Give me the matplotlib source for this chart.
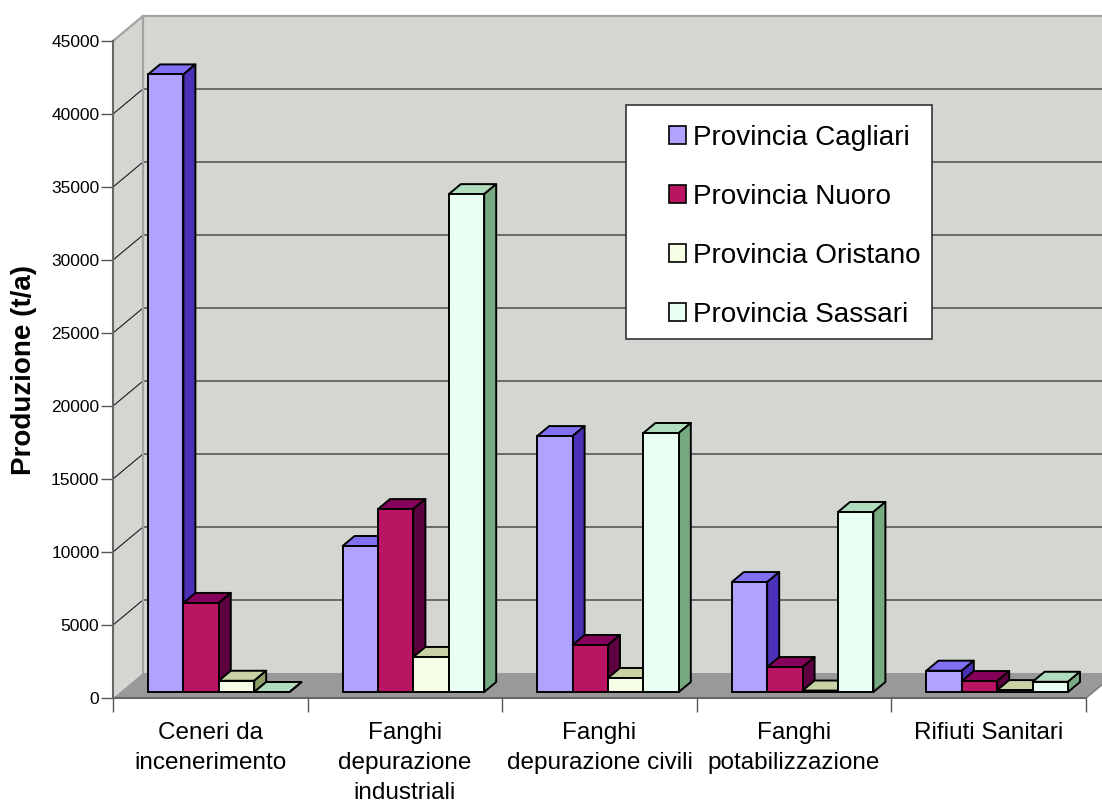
import numpy as np
import matplotlib
matplotlib.use('Agg')
import matplotlib.pyplot as plt
from matplotlib.patches import Polygon, Rectangle, Patch

categories = ["Ceneri da\nincenerimento", "Fanghi\ndepurazione\nindustriali", "Fanghi\ndepurazione civili",
              "Fanghi\npotabilizzazione", "Rifiuti Sanitari"]
series = ["Provincia Cagliari", "Provincia Nuoro", "Provincia Oristano", "Provincia Sassari"]
cagliari = [42300, 10000, 17530, 7530, 1460]
nuoro = [6100, 12530, 3220, 1710, 750]
oristano = [770, 2400, 960, 100, 130]
sassari = [0, 34100, 17740, 12330, 700]
values = [cagliari, nuoro, oristano, sassari]

front_colors = ["#b0a3ff", "#b91563", "#f5ffe8", "#e9fff2"]
top_colors = ["#8070f2", "#85005a", "#c8d2a5", "#b0dcbe"]
side_colors = ["#4b30b8", "#5c0040", "#8f9f68", "#78aa82"]

W, H = 1102, 805
plt.rcParams['font.family'] = ['Liberation Sans', 'DejaVu Sans']
fig = plt.figure(figsize=(W / 100, H / 100), dpi=100)
ax = fig.add_axes([113 / W, 1 - 698 / H, 973 / W, 657 / H])
ax.set_xlim(0, 5)
ax.set_ylim(0, 45000)
ax.patch.set_visible(False)

# pixel sizes turned into data units
px = 5 / 973
py = 45000 / 657
wall_dx, wall_dy = 30 * px, 25 * py
bar_dx, bar_dy = 12 * px, 10 * py
base = 6 * py
bar_w = 35.4 * px
bar_start = 35 * px


def poly(pts, color, z, edge='none', lw=0):
    ax.add_patch(Polygon(pts, closed=True, facecolor=color, edgecolor=edge, linewidth=lw,
                         zorder=z, clip_on=False, joinstyle='round'))


# walls and floor
wall = "#d4d6d2"
top = 45000 + wall_dy
poly([(wall_dx, wall_dy), (5 + wall_dx, wall_dy), (5 + wall_dx, top), (wall_dx, top)], wall, 1)
poly([(0, 0), (wall_dx, wall_dy), (wall_dx, top), (0, 45000)], wall, 1)
poly([(0, 0), (5, 0), (5 + wall_dx, wall_dy), (wall_dx, wall_dy)], "#999999", 1.5)

yticks = np.arange(0, 45001, 5000)
for v in yticks[1:-1]:
    ax.plot([0, wall_dx, 5 + wall_dx], [v, v + wall_dy, v + wall_dy], color="#1a1a1a", lw=0.8,
            zorder=1.2, clip_on=False)
ax.plot([0, wall_dx, 5 + wall_dx], [45000, top, top], color="#a3a3a3", lw=1.6, zorder=1.3, clip_on=False)
ax.plot([wall_dx, wall_dx], [wall_dy, top], color="#a3a3a3", lw=1.6, zorder=1.3, clip_on=False)
ax.plot([5, 5 + wall_dx], [0, wall_dy], color="#808080", lw=1.2, zorder=1.6, clip_on=False)

# bars, left to right so the next bar covers the side of the previous one
z = 2.0
for g in range(len(categories)):
    for s in range(len(series)):
        x = g + bar_start + s * bar_w
        y = base + values[s][g]
        ec = dict(edge='black', lw=1.4)
        poly([(x, y), (x + bar_w, y), (x + bar_w + bar_dx, y + bar_dy), (x + bar_dx, y + bar_dy)],
             top_colors[s], z, **ec)
        poly([(x + bar_w, base), (x + bar_w + bar_dx, base + bar_dy), (x + bar_w + bar_dx, y + bar_dy),
              (x + bar_w, y)], side_colors[s], z, **ec)
        ax.bar(x, values[s][g], bar_w, bottom=base, align='edge', color=front_colors[s],
               edgecolor='black', linewidth=1.4, zorder=z + 0.001, clip_on=False)
        z += 0.002

# axes
for name in ['top', 'right']:
    ax.spines[name].set_visible(False)
for name in ['left', 'bottom']:
    ax.spines[name].set_color("#666666")
    ax.spines[name].set_linewidth(1.5)
    ax.spines[name].set_zorder(1.7)
ax.set_yticks(yticks)
ax.set_yticklabels([str(v) for v in yticks])
ax.tick_params(axis='y', length=8.6, width=1.0, color="#555555", labelsize=12.5, pad=1.2)
ax.set_xticks(np.arange(6))
ax.set_xticklabels([])
ax.tick_params(axis='x', which='major', length=10, width=1.0, color="#555555")
ax.set_xticks(np.arange(5) + 0.5, minor=True)
ax.set_xticklabels(categories, minor=True, fontsize=17.5, linespacing=1.47, va='top')
ax.tick_params(axis='x', which='minor', length=0, pad=17.5)
ax.text(24 / W, 1 - 370 / H, "Produzione (t/a)", transform=fig.transFigure, rotation=90,
        ha='center', va='center', fontsize=20, fontweight='bold')

# legend box and legend
ax.add_patch(Rectangle((626 / W, 1 - 339 / H), 306 / W, 234 / H, transform=fig.transFigure, facecolor='white',
                       edgecolor='#333333', linewidth=1.2, zorder=5, clip_on=False))
handles = [Patch(facecolor=c, edgecolor='black', linewidth=1.2) for c in front_colors]
leg = ax.legend(handles, series, loc='upper left', bbox_to_anchor=(669 / W, 1 - 125 / H),
                bbox_transform=fig.transFigure, frameon=False, fontsize=20.1, labelspacing=1.18,
                handlelength=0.62, handleheight=0.62, handletextpad=0.25, borderpad=0, borderaxespad=0)
leg.set_zorder(6)

fig.savefig('out.png', dpi=100)
